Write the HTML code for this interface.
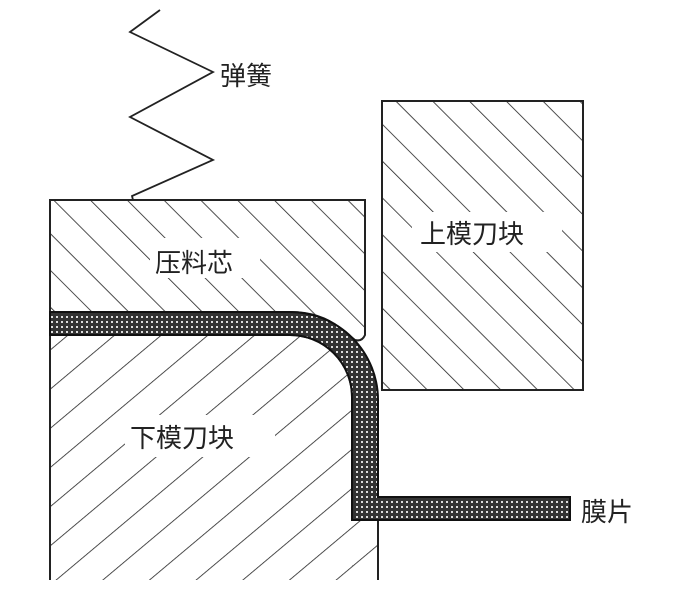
<!DOCTYPE html>
<html><head><meta charset="utf-8"><style>
body{margin:0;background:#fff}
svg{display:block}
text{font-family:"Liberation Sans","Noto Sans CJK SC",sans-serif;font-size:26px;fill:#222}
</style></head><body>
<svg width="676" height="613" viewBox="0 0 676 613">
<defs>
<pattern id="hb" width="26" height="26" patternUnits="userSpaceOnUse" patternTransform="rotate(-45)">
<line x1="0" y1="0" x2="0" y2="26" stroke="#222" stroke-width="1.6"/></pattern>
<pattern id="hf" width="30" height="30" patternUnits="userSpaceOnUse" patternTransform="rotate(50)">
<line x1="0" y1="0" x2="0" y2="30" stroke="#222" stroke-width="1.6"/></pattern>
<pattern id="dots" width="5" height="5" patternUnits="userSpaceOnUse">
<rect width="5" height="5" fill="#333"/><rect x="1" y="1" width="2" height="2" fill="#ddd"/></pattern>
</defs>
<polyline points="160,10 130,32 213,72 130,117 213,160 132,196 133,200" fill="none" stroke="#222" stroke-width="1.8"/>
<path d="M50,200 H365 V335 Q362,342 355,340 L340,328 Q320,312 290,312 H50 Z" fill="url(#hb)" stroke="#222" stroke-width="2"/>
<rect x="150" y="238" width="110" height="40" fill="#fff"/>
<rect x="382" y="101" width="201" height="289" fill="url(#hb)" stroke="#222" stroke-width="2"/>
<rect x="412" y="212" width="150" height="40" fill="#fff"/>
<path d="M50,580 V335 H290 A62,62 0 0 1 352,397 V520 H378 V580" fill="url(#hf)" stroke="#222" stroke-width="2"/>
<rect x="125" y="415" width="150" height="42" fill="#fff"/>
<path d="M50,312 H290 A88,88 0 0 1 378,400 V497 H570 V520 H352 V397 A62,62 0 0 0 290,335 H50 Z" fill="url(#dots)" stroke="#111" stroke-width="2"/>
<text x="220" y="85">弹簧</text>
<text x="155" y="272">压料芯</text>
<text x="420" y="243">上模刀块</text>
<text x="130" y="447">下模刀块</text>
<text x="581" y="521">膜片</text>
</svg>
</body></html>
